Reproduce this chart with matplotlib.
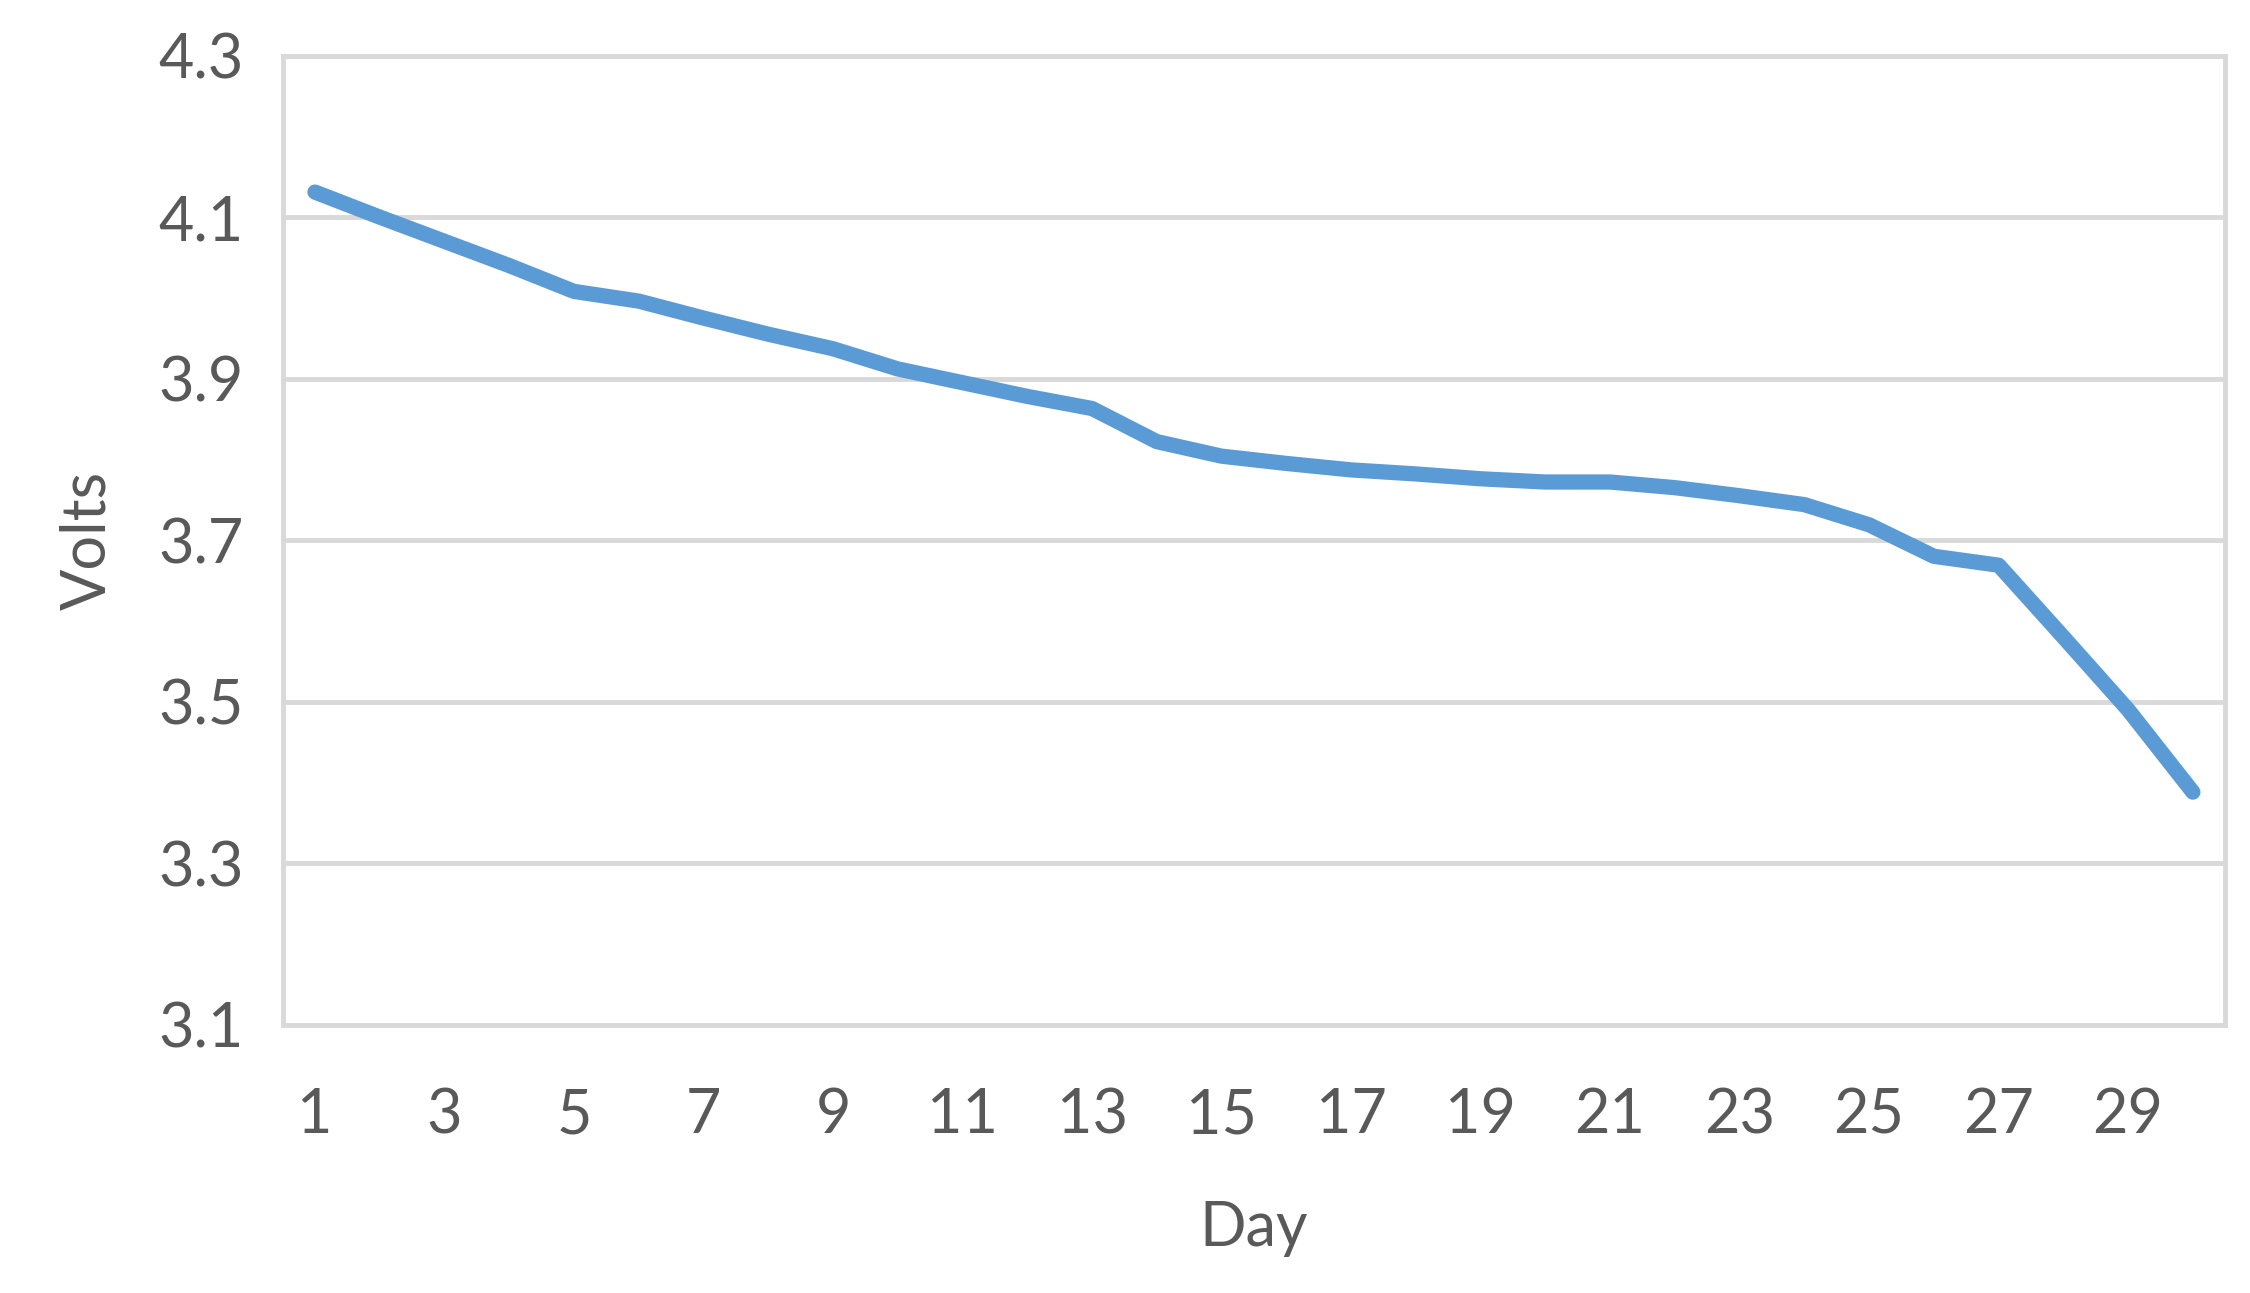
import matplotlib.pyplot as plt

days = list(range(1, 31))
volts = [4.131, 4.10, 4.07, 4.04, 4.008, 3.996, 3.975, 3.955, 3.937, 3.912,
         3.895, 3.878, 3.863, 3.822, 3.804, 3.795, 3.787, 3.782, 3.776, 3.772,
         3.772, 3.765, 3.755, 3.744, 3.719, 3.680, 3.669, 3.58, 3.49, 3.388]

plt.rcParams['font.family'] = ['Lato', 'DejaVu Sans']
grey = '#595959'

fig = plt.figure(figsize=(22.5, 12.93), dpi=100)
ax = fig.add_axes([0.1256, 0.2075, 0.8634, 0.7495])
ax.plot(days, volts, color='#5b9bd5', lw=11, solid_capstyle='round', solid_joinstyle='round', zorder=3)

ax.set_xlim(0.5, 30.5)
ax.set_ylim(3.1, 4.3)
ax.set_yticks([3.1, 3.3, 3.5, 3.7, 3.9, 4.1, 4.3])
ax.set_xticks(range(1, 30, 2))
ax.grid(axis='y', color='#d9d9d9', lw=3.5)
ax.set_axisbelow(True)
for s in ax.spines.values():
    s.set_color('#d9d9d9')
    s.set_linewidth(3.5)
ax.tick_params(length=0, labelsize=44, colors=grey, pad=28)
ax.tick_params(axis='x', pad=45)
ax.set_xlabel('Day', fontsize=44, color=grey, labelpad=40)
ax.set_ylabel('Volts', fontsize=44, color=grey, labelpad=30)

fig.savefig('out.png')
